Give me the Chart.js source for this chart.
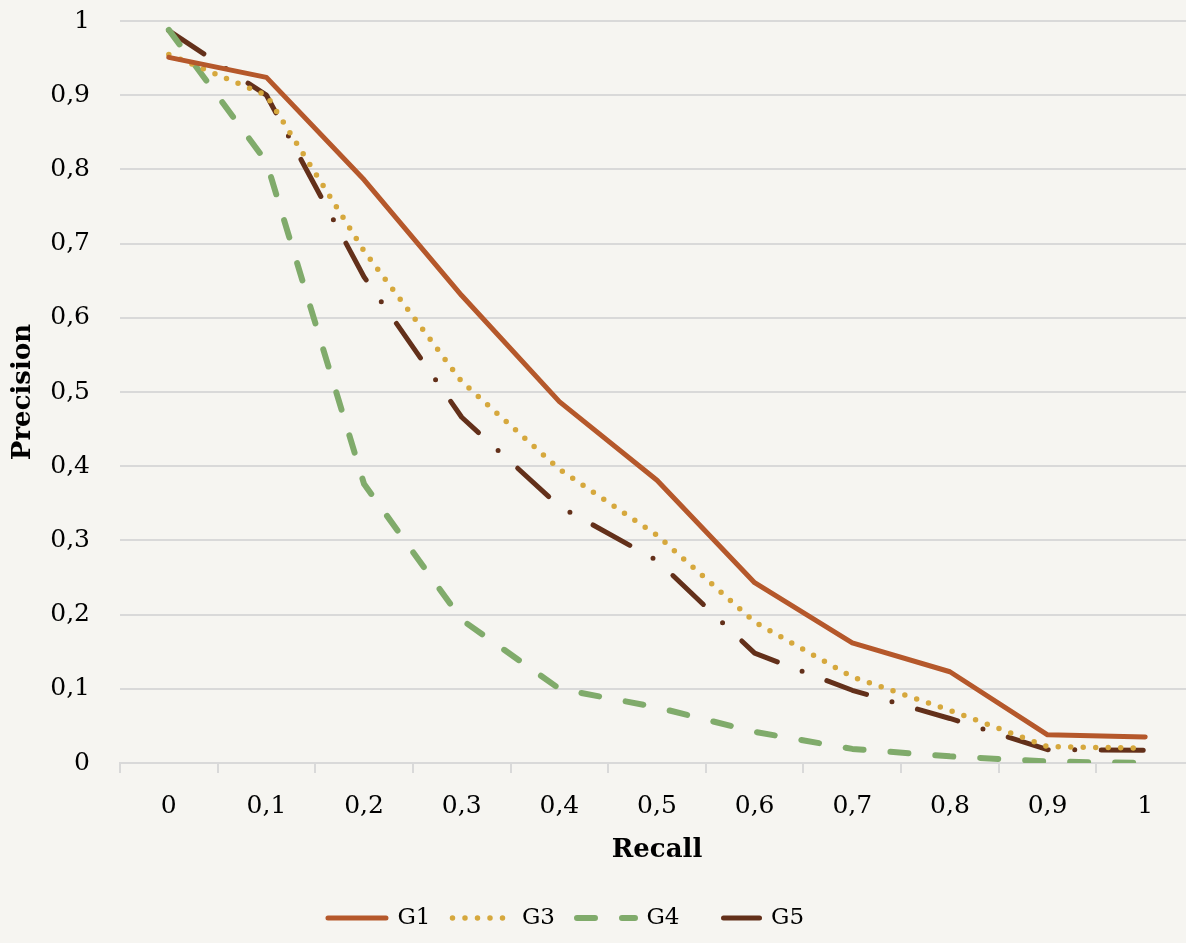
<!DOCTYPE html>
<html>
<head>
<meta charset="utf-8">
<script src="https://cdn.jsdelivr.net/npm/chart.js@4"></script>
<style>
	html, body { margin: 0; padding: 0; overflow: hidden; background: #f6f5f1; }
	#wrap { width: 1186px; height: 943px; overflow: hidden; }
</style>
</head>
<body>
<div id="wrap"><canvas id="chart1"></canvas></div>
<script>
var recall = ['0', '0,1', '0,2', '0,3', '0,4', '0,5', '0,6', '0,7', '0,8', '0,9', '1'];
var yTickLabels = ['0', '0,1', '0,2', '0,3', '0,4', '0,5', '0,6', '0,7', '0,8', '0,9', '1'];

var g1 = [0.951, 0.924, 0.786, 0.630, 0.487, 0.381, 0.243, 0.162, 0.123, 0.038, 0.035];
var g3 = [0.955, 0.900, 0.690, 0.514, 0.396, 0.307, 0.190, 0.116, 0.071, 0.022, 0.020];
var g4 = [0.988, 0.810, 0.376, 0.193, 0.100, 0.075, 0.042, 0.019, 0.009, 0.002, 0.000];
var g5 = [0.987, 0.900, 0.655, 0.466, 0.346, 0.273, 0.148, 0.098, 0.060, 0.018, 0.017];

var serif = "'DejaVu Serif', serif";
var gridColor = '#d9d9d9';

var ctx = document.getElementById("chart1").getContext("2d");
ctx.canvas.width = 1194;
ctx.canvas.height = 943;

new Chart(ctx, {
	type: 'line',
	data: {
		labels: recall,
		datasets: [{
			label: 'G1',
			data: g1,
			borderColor: '#b5582b',
			backgroundColor: '#b5582b',
			borderWidth: 5,
			borderCapStyle: 'round',
			borderJoinStyle: 'round'
		}, {
			label: 'G3',
			data: g3,
			borderColor: '#d6a83d',
			backgroundColor: '#d6a83d',
			borderWidth: 5.5,
			borderDash: [0, 12.5],
			borderCapStyle: 'round',
			borderJoinStyle: 'round'
		}, {
			label: 'G4',
			data: g4,
			borderColor: '#80ab6b',
			backgroundColor: '#80ab6b',
			borderWidth: 6,
			borderDash: [18, 27],
			borderCapStyle: 'round',
			borderJoinStyle: 'round'
		}, {
			label: 'G5',
			data: g5,
			borderColor: '#63301a',
			backgroundColor: '#63301a',
			borderWidth: 5,
			borderDash: [42, 26.5, 0, 26.5],
			borderCapStyle: 'round',
			borderJoinStyle: 'round'
		}]
	},
	options: {
		responsive: false,
		animation: false,
		tension: 0,
		pointRadius: 0,
		// negative left padding so the bottom legend sits left of centre like the original
		layout: { padding: { left: -62, right: 0, top: 21, bottom: 3.5 } },
		plugins: {
			tooltip: { enabled: false },
			legend: {
				position: 'bottom',
				labels: {
					usePointStyle: true,
					pointStyle: 'line',
					pointStyleWidth: 58,
					padding: 22,
					color: '#000',
					font: { family: serif, size: 23 },
					generateLabels: function (chart) {
						var items = Chart.defaults.plugins.legend.labels.generateLabels(chart);
						items.forEach(function (it) {
							var ds = chart.data.datasets[it.datasetIndex];
							it.strokeStyle = ds.borderColor;
							it.fillStyle = ds.borderColor;
							it.lineWidth = ds.borderWidth;
							it.lineDash = ds.borderDash || [];
							it.lineCap = 'round';
							it.lineDashOffset = ds.label === 'G5' ? 73 : 0;
						});
						return items;
					}
				}
			}
		},
		scales: {
			x: {
				offset: true,
				grid: {
					offset: true,
					drawOnChartArea: false,
					color: gridColor,
					lineWidth: 2,
					tickLength: 10
				},
				border: { display: true, color: gridColor, width: 2 },
				ticks: {
					color: '#000',
					padding: 18,
					maxRotation: 0,
					font: { family: serif, size: 25 }
				},
				title: {
					display: true,
					text: 'Recall',
					color: '#000',
					padding: { top: 8, bottom: 19 },
					font: { family: serif, size: 26, weight: 'bold' }
				},
				afterFit: function (scale) { scale.height = 121.5; }
			},
			y: {
				min: 0,
				max: 1,
				grid: {
					color: gridColor,
					lineWidth: 2,
					drawTicks: false
				},
				border: { display: false },
				ticks: {
					stepSize: 0.1,
					color: '#000',
					padding: 30,
					font: { family: serif, size: 25 },
					callback: function (value, index) { return yTickLabels[index]; }
				},
				title: {
					display: true,
					text: 'Precision',
					color: '#000',
					padding: { top: 70, bottom: 0 },
					font: { family: serif, size: 26, weight: 'bold' }
				},
				afterFit: function (scale) {
					scale.width = 182;
					scale.paddingTop = 0;
					scale.paddingBottom = 0;
				}
			}
		}
	}
});
</script>
</body>
</html>
